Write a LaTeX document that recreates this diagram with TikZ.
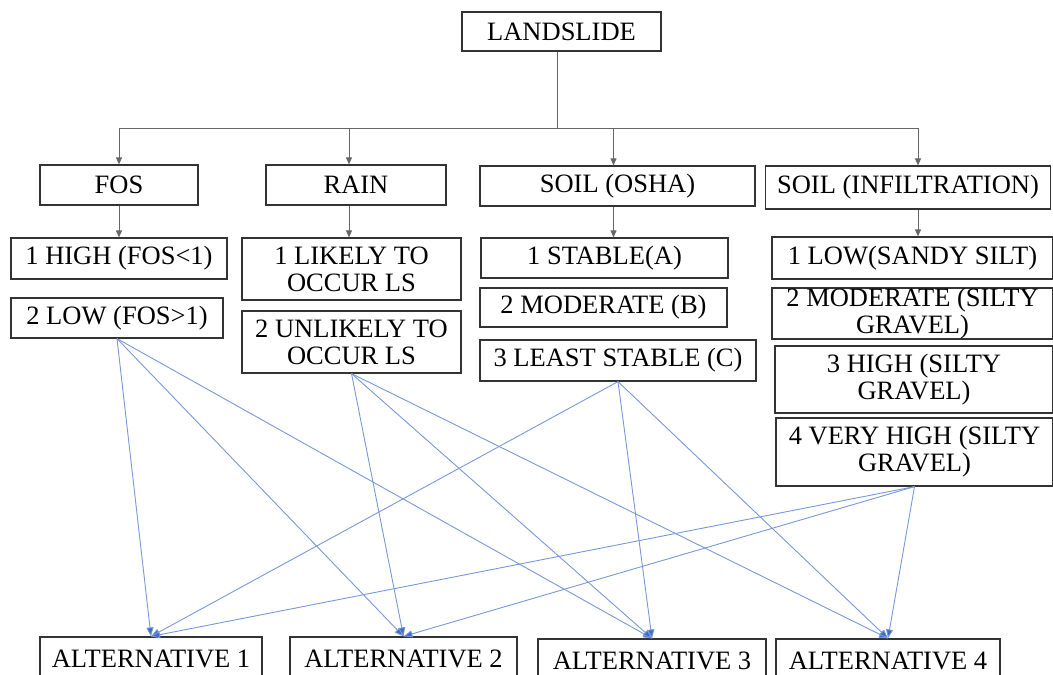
\documentclass[tikz,border=0pt]{standalone}
\usepackage{fontspec}
\setmainfont{Liberation Serif}
\usetikzlibrary{arrows.meta}
\definecolor{lnblue}{RGB}{120,152,214}
\definecolor{tipblue}{RGB}{60,108,200}
\tikzset{
  box/.style={draw=black!80, line width=1.2pt, inner sep=0pt, align=center,
    font=\fontsize{26.5}{27}\selectfont, text=black},
  tree/.style={draw=black!60, line width=0.9pt},
  treearrow/.style={tree, -{Triangle[length=7pt,width=6pt]}},
  link/.style={draw=lnblue, line width=0.9pt, -{Triangle[length=9pt,width=7pt,fill=tipblue]}},
}
\begin{document}
\begin{tikzpicture}[x=1pt,y=-1pt]
\useasboundingbox (0,0) rectangle (1053,675);
\clip (0,0) rectangle (1053,675);
% level 0
\node[box, minimum width=199pt, minimum height=39pt] (land) at (561.5,31.5) {LANDSLIDE};
% level 1
\node[box, minimum width=158pt, minimum height=40pt] (fos) at (119,185) {FOS};
\node[box, minimum width=180pt, minimum height=40pt] (rain) at (356,185) {RAIN};
\node[box, minimum width=275pt, minimum height=40pt] (osha) at (617.5,186) {SOIL (OSHA)};
\node[box, minimum width=285pt, minimum height=43pt] (inf) at (908,187.5) {SOIL (INFILTRATION)};
% level 2
\node[box, minimum width=216pt, minimum height=41pt] (h1) at (119,258.5) {1 HIGH (FOS<1)};
\node[box, minimum width=212pt, minimum height=40pt] (l2) at (117,318) {2 LOW (FOS>1)};
\node[box, minimum width=219pt, minimum height=62pt] (lk1) at (351.5,269) {1 LIKELY TO\\OCCUR LS};
\node[box, minimum width=219pt, minimum height=62pt] (un2) at (351.5,342) {2 UNLIKELY TO\\OCCUR LS};
\node[box, minimum width=247pt, minimum height=40pt] (st1) at (604.5,258) {1 STABLE(A)};
\node[box, minimum width=247pt, minimum height=39pt] (md2) at (603.5,307.5) {2 MODERATE (B)};
\node[box, minimum width=276pt, minimum height=41pt] (ls3) at (618,360.5) {3 LEAST STABLE (C)};
\node[box, minimum width=281pt, minimum height=42pt] (lo1) at (912.5,258) {1 LOW(SANDY SILT)};
\node[box, minimum width=281pt, minimum height=49pt] (mo2) at (912.5,313.5) {2 MODERATE (SILTY\\GRAVEL)};
\node[box, minimum width=278pt, minimum height=67pt] (hi3) at (914,379.5) {3 HIGH (SILTY\\GRAVEL)};
\node[box, minimum width=277pt, minimum height=68pt] (vh4) at (914.5,452) {4 VERY HIGH (SILTY\\GRAVEL)};
% alternatives
\node[box, minimum width=222pt, minimum height=44pt] (a1) at (151,659) {ALTERNATIVE 1};
\node[box, minimum width=227pt, minimum height=44pt] (a2) at (403.5,659) {ALTERNATIVE 2};
\node[box, minimum width=228pt, minimum height=44pt] (a3) at (652,661) {ALTERNATIVE 3};
\node[box, minimum width=224pt, minimum height=44pt] (a4) at (888,661) {ALTERNATIVE 4};
% tree connectors
\coordinate (top) at ([xshift=-4pt]land.south);
\coordinate (hub) at (top |- 0,128);
\coordinate (dfos) at (fos.north);
\coordinate (drain) at ([xshift=-7pt]rain.north);
\coordinate (dosha) at ([xshift=-4pt]osha.north);
\coordinate (dinf) at ([xshift=10pt]inf.north);
\coordinate (ufos) at (fos.south);
\coordinate (urain) at ([xshift=-7pt]rain.south);
\coordinate (uosha) at ([xshift=-4pt]osha.south);
\coordinate (uinf) at ([xshift=10pt]inf.south);
\draw[tree] (top) -- (hub);
\draw[tree] (dfos |- hub) -- (dinf |- hub);
\draw[treearrow] (dfos |- hub) -- (dfos);
\draw[treearrow] (drain |- hub) -- (drain);
\draw[treearrow] (dosha |- hub) -- (dosha);
\draw[treearrow] (dinf |- hub) -- (dinf);
\draw[treearrow] (ufos) -- (ufos |- h1.north);
\draw[treearrow] (urain) -- (urain |- lk1.north);
\draw[treearrow] (uosha) -- (uosha |- st1.north);
\draw[treearrow] (uinf) -- (uinf |- lo1.north);
% links
\draw[link] (l2.south) -- (a1.north);
\draw[link] (l2.south) -- (a2.north);
\draw[link] (l2.south) -- (a3.north);
\draw[link] (un2.south) -- (a2.north);
\draw[link] (un2.south) -- (a3.north);
\draw[link] (un2.south) -- (a4.north);
\draw[link] (ls3.south) -- (a1.north);
\draw[link] (ls3.south) -- (a3.north);
\draw[link] (ls3.south) -- (a4.north);
\draw[link] (vh4.south) -- (a1.north);
\draw[link] (vh4.south) -- (a2.north);
\draw[link] (vh4.south) -- (a4.north);
\end{tikzpicture}
\end{document}
